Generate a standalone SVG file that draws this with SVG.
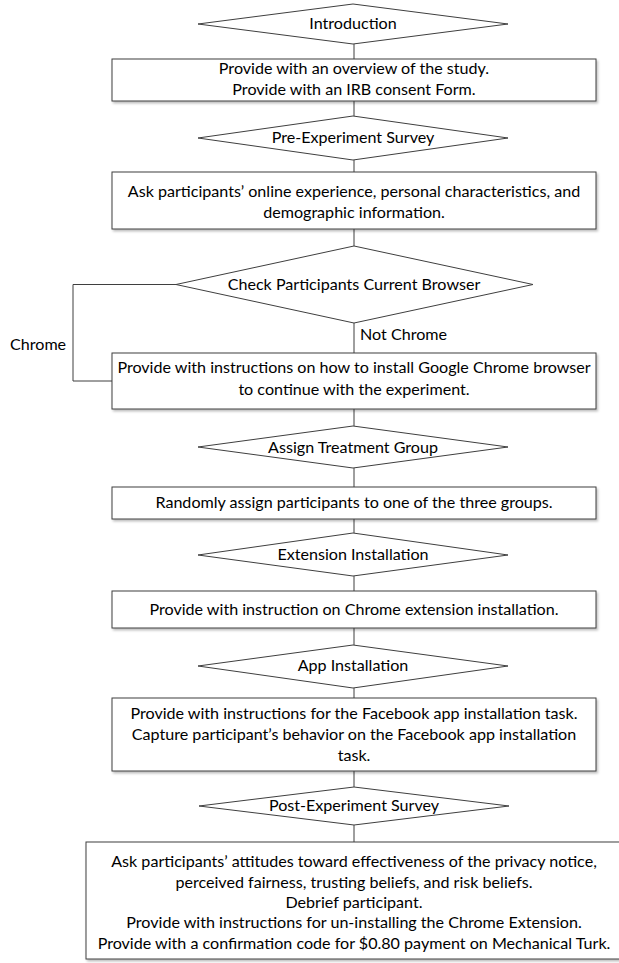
<svg xmlns="http://www.w3.org/2000/svg" width="619" height="963" viewBox="0 0 619 963">
<defs>
<filter id="sh" x="-5%" y="-10%" width="110%" height="130%">
<feDropShadow dx="1.5" dy="2" stdDeviation="1" flood-color="#000" flood-opacity="0.25"/>
</filter>
<style>
.box{fill:#fff;stroke:#3f3f3f;stroke-width:1;filter:url(#sh)}
.dia{fill:#fff;stroke:#3f3f3f;stroke-width:1}
.t{font-family:Lato,"Liberation Sans",sans-serif;font-size:16.1px;fill:#000;text-anchor:middle}
.lbl{font-family:Lato,"Liberation Sans",sans-serif;font-size:16.1px;fill:#000}
.c{fill:none;stroke:#3f3f3f;stroke-width:1}
</style>
</defs>
<rect width="619" height="963" fill="#fff"/>
<g id="connectors">
<line class="c" x1="354" y1="44" x2="354" y2="59"/>
<line class="c" x1="354" y1="101" x2="354" y2="116"/>
<line class="c" x1="354" y1="160" x2="354" y2="172"/>
<line class="c" x1="354" y1="229" x2="354" y2="246"/>
<line class="c" x1="354" y1="323" x2="354" y2="353"/>
<path class="c" stroke="#000" d="M176 284.5 H73 V381 H112"/>
<line class="c" x1="354" y1="409" x2="354" y2="426"/>
<line class="c" x1="354" y1="468" x2="354" y2="487"/>
<line class="c" x1="354" y1="519" x2="354" y2="533"/>
<line class="c" x1="354" y1="576" x2="354" y2="591"/>
<line class="c" x1="354" y1="628" x2="354" y2="645"/>
<line class="c" x1="354" y1="688" x2="354" y2="698"/>
<line class="c" x1="354" y1="771" x2="354" y2="787"/>
<line class="c" x1="354" y1="825" x2="354" y2="842"/>
<text class="lbl" x="360" y="340">Not Chrome</text>
<text class="lbl" x="10" y="350">Chrome</text>
</g>
<g id="n-intro">
<polygon class="dia" points="198,24 353,4 508,24 353,44"/>
<text class="t" x="353" y="29">Introduction</text>
</g>
<g id="n-overview">
<rect class="box" x="112" y="59" width="484" height="42"/>
<text class="t" x="354" y="74">Provide with an overview of the study.</text>
<text class="t" x="354" y="95">Provide with an IRB consent Form.</text>
</g>
<g id="n-pre">
<polygon class="dia" points="198,138 353,116 508,138 353,160"/>
<text class="t" x="353" y="143">Pre-Experiment Survey</text>
</g>
<g id="n-ask">
<rect class="box" x="112" y="172" width="484" height="57"/>
<text class="t" x="354" y="197">Ask participants’ online experience, personal characteristics, and</text>
<text class="t" x="354" y="218">demographic information.</text>
</g>
<g id="n-check">
<polygon class="dia" points="176,284.5 354,246 533,284.5 354,323"/>
<text class="t" x="354" y="290">Check Participants Current Browser</text>
</g>
<g id="n-install-chrome">
<rect class="box" x="112" y="353" width="484" height="56"/>
<text class="t" x="354" y="373">Provide with instructions on how to install Google Chrome browser</text>
<text class="t" x="354" y="395">to continue with the experiment.</text>
</g>
<g id="n-assign">
<polygon class="dia" points="198,447 353,426 508,447 353,468"/>
<text class="t" x="353" y="453">Assign Treatment Group</text>
</g>
<g id="n-random">
<rect class="box" x="112" y="487" width="484" height="32"/>
<text class="t" x="354" y="508">Randomly assign participants to one of the three groups.</text>
</g>
<g id="n-ext">
<polygon class="dia" points="198,555 353,533 508,555 353,576"/>
<text class="t" x="353" y="560">Extension Installation</text>
</g>
<g id="n-ext-inst">
<rect class="box" x="112" y="591" width="484" height="37"/>
<text class="t" x="354" y="615">Provide with instruction on Chrome extension installation.</text>
</g>
<g id="n-app">
<polygon class="dia" points="198,666 353,645 508,666 353,688"/>
<text class="t" x="353" y="671">App Installation</text>
</g>
<g id="n-app-task">
<rect class="box" x="112" y="698" width="484" height="73"/>
<text class="t" x="354" y="719">Provide with instructions for the Facebook app installation task.</text>
<text class="t" x="354" y="740">Capture participant’s behavior on the Facebook app installation</text>
<text class="t" x="354" y="761">task.</text>
</g>
<g id="n-post">
<polygon class="dia" points="199,806 354,787 509,806 354,825"/>
<text class="t" x="354" y="811">Post-Experiment Survey</text>
</g>
<g id="n-final">
<rect class="box" x="86" y="842" width="540" height="117"/>
<text class="t" x="354" y="867">Ask participants’ attitudes toward effectiveness of the privacy notice,</text>
<text class="t" x="354" y="888">perceived fairness, trusting beliefs, and risk beliefs.</text>
<text class="t" x="354" y="908">Debrief participant.</text>
<text class="t" x="354" y="928">Provide with instructions for un-installing the Chrome Extension.</text>
<text class="t" x="354" y="949">Provide with a confirmation code for $0.80 payment on Mechanical Turk.</text>
</g>
</svg>
